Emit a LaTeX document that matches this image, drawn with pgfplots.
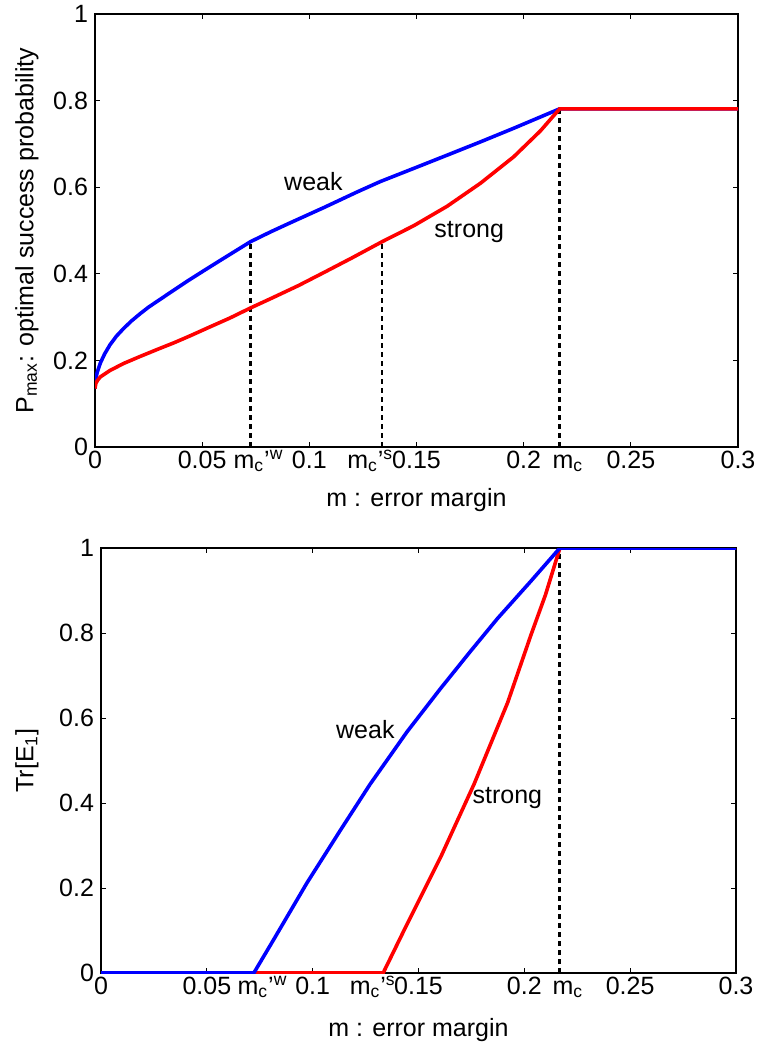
\documentclass[border=0pt]{standalone}
\usepackage{fontspec}
\setmainfont{Liberation Sans}
\usepackage{pgfplots}
\pgfplotsset{compat=1.18}

% success probability, weak and strong error margin
\pgfplotstableread{
m y
0      0.135
0.0001 0.147
0.0004 0.158
0.0010 0.172
0.0025 0.194
0.0045 0.215
0.0070 0.236
0.0100 0.256
0.0134 0.274
0.0170 0.291
0.0211 0.308
0.0250 0.323
0.0289 0.336
0.0367 0.362
0.0437 0.385
0.0520 0.411
0.0601 0.436
0.0725 0.474
0.0820 0.497
0.0912 0.518
0.1068 0.553
0.1223 0.589
0.1331 0.613
0.1490 0.644
0.1643 0.674
0.1800 0.705
0.1953 0.736
0.2168 0.781
0.3    0.781
}\pweak
\pgfplotstableread{
m y
0      0.135
0.0004 0.147
0.0012 0.154
0.0025 0.162
0.0071 0.177
0.0134 0.193
0.0210 0.209
0.0289 0.225
0.0370 0.241
0.0445 0.257
0.0530 0.276
0.0630 0.298
0.0725 0.321
0.0830 0.345
0.0950 0.373
0.1068 0.403
0.1200 0.437
0.1339 0.474
0.1487 0.511
0.1643 0.556
0.1798 0.609
0.1953 0.670
0.2078 0.730
0.2168 0.781
0.3    0.781
}\pstrong
% Tr[E1]
\pgfplotstableread{
m y
0      0
0.0722 0
0.0815 0.078
0.0973 0.212
0.1131 0.336
0.1271 0.444
0.1445 0.567
0.1602 0.668
0.1744 0.756
0.1873 0.834
0.2031 0.922
0.2168 1
0.3    1
}\tweak
\pgfplotstableread{
m y
0      0
0.1333 0
0.1447 0.116
0.1605 0.273
0.1763 0.445
0.1921 0.636
0.2031 0.795
0.2100 0.890
0.2168 1
0.3    1
}\tstrong

\pgfplotsset{
  mcaxis/.style={
    scale only axis,
    xmin=0, xmax=0.3, ymin=0, ymax=1,
    xtick={0,0.05,0.1,0.15,0.2,0.25,0.3},
    xticklabels={0,0.05,0.1,0.15,0.2,0.25,0.3},
    ytick={0,0.2,0.4,0.6,0.8,1},
    yticklabels={0,0.2,0.4,0.6,0.8,1},
    extra x ticks={0.0763,0.1284,0.2206},
    extra x tick labels={m\textsubscript{c}'\textsuperscript{w},m\textsubscript{c}'\textsuperscript{s},m\textsubscript{c}},
    extra x tick style={major tick length=0pt},
    major tick length=2.5pt,
    tick style={black, line width=0.5pt},
    axis line style={black, line width=0.6pt},
    tick label style={font=\fontsize{12.5}{15}\selectfont},
    xticklabel style={text height=1.6ex, text depth=0.5ex, inner sep=2pt},
    label style={font=\fontsize{12.5}{15}\selectfont},
    xlabel={m : error margin},
  },
  wk/.style={blue, line width=1.8pt},
  st/.style={red, line width=1.8pt},
  mark line/.style={black, line width=1.4pt, dash pattern=on 2.5pt off 2pt},
}
\tikzset{lbl/.style={font=\fontsize{12.5}{15}\selectfont}}

\begin{document}
\begin{tikzpicture}
\path[use as bounding box] (0,0) rectangle (380.5pt,-523.5pt);

\begin{axis}[mcaxis,
  at={(47.5pt,-7pt)}, anchor=north west,
  width=321.5pt, height=216.5pt,
  ylabel={P\textsubscript{max}: optimal success probability},
  ylabel style={at={(axis description cs:-0.106,0.5)}, anchor=center},
  xlabel style={at={(axis description cs:0.5,-0.122)}, anchor=center},
]
\addplot[mark line] coordinates {(0.0725,0) (0.0725,0.474)};
\addplot[mark line] coordinates {(0.1339,0) (0.1339,0.474)};
\addplot[mark line] coordinates {(0.2168,0) (0.2168,0.781)};
\addplot[wk] table {\pweak};
\addplot[st] table {\pstrong};
\node[lbl] at (axis cs:0.1019,0.614) {weak};
\node[lbl] at (axis cs:0.1746,0.496) {strong};
\end{axis}

\begin{axis}[mcaxis,
  at={(50.5pt,-274pt)}, anchor=north west,
  width=317.5pt, height=212.5pt,
  ylabel={Tr[E\textsubscript{1}]},
  ylabel style={at={(axis description cs:-0.1165,0.5)}, anchor=center},
  xlabel style={at={(axis description cs:0.5,-0.134)}, anchor=center},
]
\addplot[mark line] coordinates {(0.2168,0) (0.2168,1)};
\addplot[st] table {\tstrong};
\addplot[wk] table {\tweak};
\node[lbl] at (axis cs:0.1249,0.573) {weak};
\node[lbl] at (axis cs:0.192,0.411) {strong};
\end{axis}
\end{tikzpicture}
\end{document}
